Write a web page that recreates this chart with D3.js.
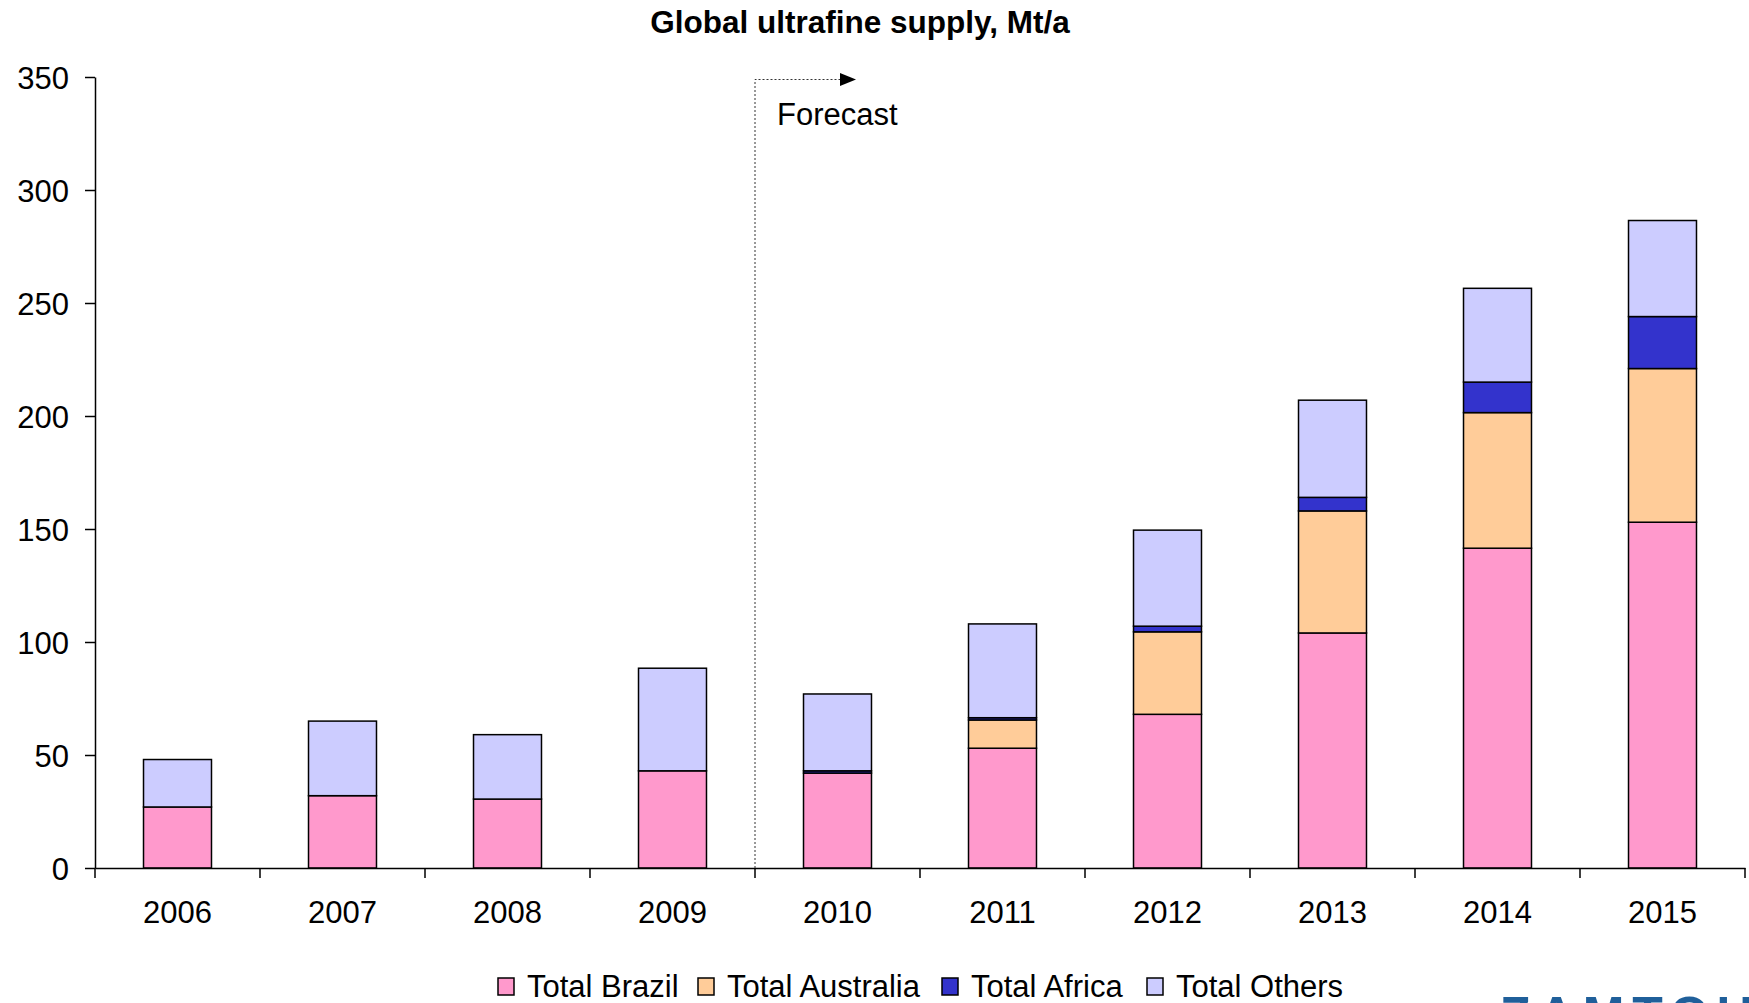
<!DOCTYPE html>
<html>
<head>
<meta charset="utf-8">
<script src="https://cdn.jsdelivr.net/npm/d3@7"></script>
<style>
	body{margin:0;background:#fff;}
	svg text{font-family:"Liberation Sans",Arial,Helvetica,sans-serif;fill:#000;}
	.title{font-weight:bold;font-size:31.5px;}
	.axis text{font-size:31px;}
	.axis path,.axis line{stroke:#000;stroke-width:1.5px;}
	.legend_text{font-size:31px;}
</style>
</head>
<body>
<div id="chart"></div>
<script>
var years = ["2006","2007","2008","2009","2010","2011","2012","2013","2014","2015"];
var brazil = [27, 32, 30.5, 43, 42, 53, 68, 104, 141.5, 153];
var australia = [0, 0, 0, 0, 0, 12.5, 36.5, 54, 60, 68];
var africa = [0, 0, 0, 0, 1, 1, 2.5, 6, 13.5, 23];
var others = [21, 33, 28.5, 45.4, 34, 41.5, 42.5, 43, 41.5, 42.5];
var seriesNames = ["Total Brazil","Total Australia","Total Africa","Total Others"];
var seriesColors = ["#FF99CC","#FFCC99","#3333CC","#CCCCFF"];
var yTicks = [0,50,100,150,200,250,300,350];

var width = 1749, height = 1003;
var margin = {left:95, right:4, top:77, bottom:135};

var svg = d3.select("#chart").append("svg")
	.attr("width",width)
	.attr("height",height);

var x = d3.scaleBand()
	.domain(years)
	.range([margin.left, width - margin.right])
	.padding(0);

var y = d3.scaleLinear()
	.domain([0,350])
	.range([height - margin.bottom, margin.top]);

// build stack table from the series arrays
var table = years.map(function(d,i){
	return {year:d, s0:brazil[i], s1:australia[i], s2:africa[i], s3:others[i]};
});
var stack = d3.stack().keys(["s0","s1","s2","s3"]);
var layers = stack(table);

var barW = x.bandwidth()*0.412;

svg.selectAll("g.layer")
	.data(layers)
	.enter()
	.append("g")
	.attr("class","layer")
	.style("fill",function(d,i){return seriesColors[i];})
	.selectAll("rect")
	.data(function(d){return d;})
	.enter()
	.append("rect")
	.attr("x",function(d){return x(d.data.year) + (x.bandwidth()-barW)/2;})
	.attr("y",function(d){return y(d[1]);})
	.attr("width",barW)
	.attr("height",function(d){return y(d[0]) - y(d[1]);})
	.style("stroke","#000")
	.style("stroke-width",1.5);

// y axis
var yAxis = svg.append("g")
	.attr("class","axis")
	.attr("transform","translate(" + margin.left + ",0)")
	.call(d3.axisLeft(y).tickValues(yTicks).tickSize(10).tickSizeOuter(0).tickPadding(16));
yAxis.selectAll("text").attr("dy","0.36em");

// x axis, ticks on category boundaries
var xAxis = svg.append("g")
	.attr("class","axis")
	.attr("transform","translate(0," + y(0) + ")")
	.call(d3.axisBottom(x).tickSize(0).tickSizeOuter(0).tickPadding(33));
xAxis.selectAll("text").attr("dy","0.71em");
xAxis.selectAll("line.sep")
	.data(years.concat(["end"]))
	.enter()
	.append("line")
	.attr("class","sep")
	.attr("x1",function(d,i){return i < years.length ? x(d) : x(years[years.length-1]) + x.bandwidth();})
	.attr("x2",function(d,i){return i < years.length ? x(d) : x(years[years.length-1]) + x.bandwidth();})
	.attr("y1",0)
	.attr("y2",10);

// title
svg.append("text")
	.attr("class","title")
	.attr("x",860)
	.attr("y",33)
	.attr("text-anchor","middle")
	.text("Global ultrafine supply, Mt/a");

// forecast marker
var fx = x("2010");
svg.append("path")
	.attr("d","M" + fx + "," + y(0) + "V79.5H841")
	.style("fill","none")
	.style("stroke","#333")
	.style("stroke-width",1)
	.style("stroke-dasharray","2,2");
svg.append("path")
	.attr("d","M840,73L856,79.5L840,86Z")
	.style("fill","#000");
svg.append("text")
	.attr("x",fx + 22)
	.attr("y",125)
	.style("font-size","31px")
	.text("Forecast");

// legend
var legendX = [498, 698, 942, 1147];
var legend = svg.selectAll("g.legend")
	.data(seriesNames)
	.enter()
	.append("g")
	.attr("class","legend")
	.attr("transform",function(d,i){return "translate(" + legendX[i] + ",978)";});
legend.append("rect")
	.attr("width",16)
	.attr("height",17)
	.style("fill",function(d,i){return seriesColors[i];})
	.style("stroke","#000")
	.style("stroke-width",1.5);
legend.append("text")
	.attr("class","legend_text")
	.attr("x",29)
	.attr("y",19)
	.text(function(d){return d;});

// clipped logo text at the bottom right
svg.append("text")
	.attr("x",1500)
	.attr("y",1032)
	.style("font-size","50px")
	.style("font-weight","bold")
	.style("letter-spacing","8px")
	.style("fill","#1F5F9A")
	.text("ZAMTOU");
</script>
</body>
</html>
